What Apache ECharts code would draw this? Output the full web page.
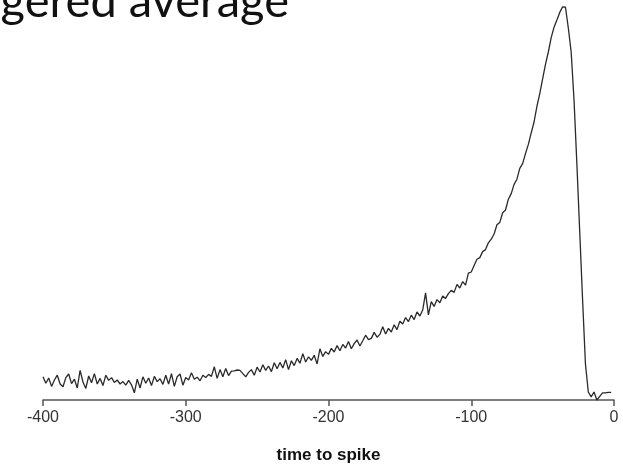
<!DOCTYPE html>
<html>
<head>
<meta charset="utf-8">
<script src="https://cdn.jsdelivr.net/npm/echarts@6/dist/echarts.min.js"></script>
<style>
  html, body { margin: 0; padding: 0; background: #fff; }
  #chart { width: 623px; height: 472px; }
</style>
</head>
<body>
<div id="chart"></div>
<script>
// Spike-triggered average: mean stimulus value in the 400 ms preceding a spike,
// sampled every 2 ms (time relative to spike, ms; stimulus in arbitrary units).
const timeStart = -400;
const timeStep = 2;

const baselineSegment = [ // -400 .. -300 ms
  5.8, 4.2, 5.5, 3.4, 5.0, 6.2, 4.0, 3.3, 5.6, 6.5,
  4.1, 5.2, 3.0, 7.4, 4.5, 2.9, 6.0, 4.3, 6.6, 4.0,
  5.4, 3.6, 6.2, 4.9, 5.6, 4.4, 5.0, 4.0, 4.6, 3.7,
  4.9, 3.8, 1.8, 5.2, 3.0, 5.8, 4.2, 5.5, 3.6, 5.9,
  4.6, 5.3, 3.9, 6.2, 4.0, 6.6, 3.4, 5.8, 6.5, 3.7,
  5.6
];
const earlyRiseSegment = [ // -298 .. -200 ms
  5.0, 6.8, 5.2, 5.7, 4.8, 6.2, 5.6, 6.4, 5.9, 8.3,
  5.4, 7.6, 5.8, 7.9, 6.1, 7.2, 7.3, 7.5, 7.4, 6.6,
  5.8, 6.9, 7.6, 6.2, 8.2, 7.0, 8.8, 7.4, 8.5, 7.1,
  9.3, 7.8, 9.4, 8.0, 10.1, 7.6, 9.8, 8.6, 10.4, 9.2,
  11.6, 9.5, 10.8, 9.9, 11.2, 9.0, 12.8, 10.9, 12.1, 11.4
];
const lateRiseSegment = [ // -198 .. -100 ms
  12.9, 12.0, 13.6, 12.3, 13.9, 13.0, 14.6, 12.8, 14.1, 15.0,
  13.5, 14.8, 16.2, 15.1, 15.4, 16.9, 15.7, 16.4, 18.3, 16.5,
  17.9, 17.0, 18.8, 17.6, 19.7, 19.0, 20.6, 19.6, 21.2, 20.1,
  22.0, 21.0, 22.5, 26.8, 21.3, 24.6, 23.4, 25.1, 24.3, 26.0,
  25.4, 26.6, 27.4, 26.9, 28.9, 28.0, 29.6, 28.7, 31.7, 32.0
];
const peakSegment = [ // -98 .. -2 ms
  33.6, 35.2, 35.6, 37.1, 37.6, 39.3, 40.2, 41.5, 43.8, 44.4,
  46.8, 47.5, 50.2, 51.6, 53.9, 55.2, 57.9, 59.1, 61.6, 63.9,
  66.8, 69.5, 73.4, 76.6, 80.3, 83.9, 87.0, 90.6, 93.2, 95.0,
  96.9, 98.3, 98.2, 93.0, 87.0, 75.0, 59.0, 42.0, 25.0, 9.0,
  2.0, 0.8, 2.0, 0.0, 0.9, 1.8, 1.8, 1.9, 1.9
];

const stimulusValues = [].concat(baselineSegment, earlyRiseSegment, lateRiseSegment, peakSegment);
const timeTicks = [-400, -300, -200, -100, 0];

const seriesData = stimulusValues.map((v, i) => [timeStart + i * timeStep, v]);

const chart = echarts.init(document.getElementById('chart'), null, { renderer: 'canvas' });
chart.setOption({
  backgroundColor: '#ffffff',
  animation: false,
  title: {
    text: 'Spike-triggered average',
    right: 334,
    top: -22,
    padding: 0,
    textStyle: {
      fontFamily: 'Lato',
      fontSize: 47,
      fontWeight: 'normal',
      color: '#111111'
    }
  },
  grid: {
    left: 43,
    right: 9,
    top: 0,
    bottom: 72,
    outerBoundsMode: 'none'
  },
  xAxis: {
    type: 'value',
    min: timeTicks[0],
    max: timeTicks[timeTicks.length - 1],
    interval: 100,
    name: 'time to spike',
    nameLocation: 'middle',
    nameGap: 47,
    nameTextStyle: {
      fontFamily: 'Liberation Sans',
      fontSize: 17,
      fontWeight: 'bold',
      color: '#111111'
    },
    axisLine: { show: true, onZero: false, lineStyle: { color: '#555555', width: 1.5 } },
    axisTick: { show: true, length: 6, inside: false, lineStyle: { color: '#555555', width: 1.5 } },
    axisLabel: {
      fontFamily: 'Liberation Sans',
      fontSize: 16,
      color: '#333333',
      margin: 10,
      formatter: v => String(v)
    },
    splitLine: { show: false }
  },
  yAxis: {
    type: 'value',
    min: 0,
    max: 100,
    show: false
  },
  series: [{
    type: 'line',
    data: seriesData,
    showSymbol: false,
    symbol: 'none',
    lineStyle: { color: '#2a2a2a', width: 1.3 },
    clip: false
  }]
});
</script>
</body>
</html>
